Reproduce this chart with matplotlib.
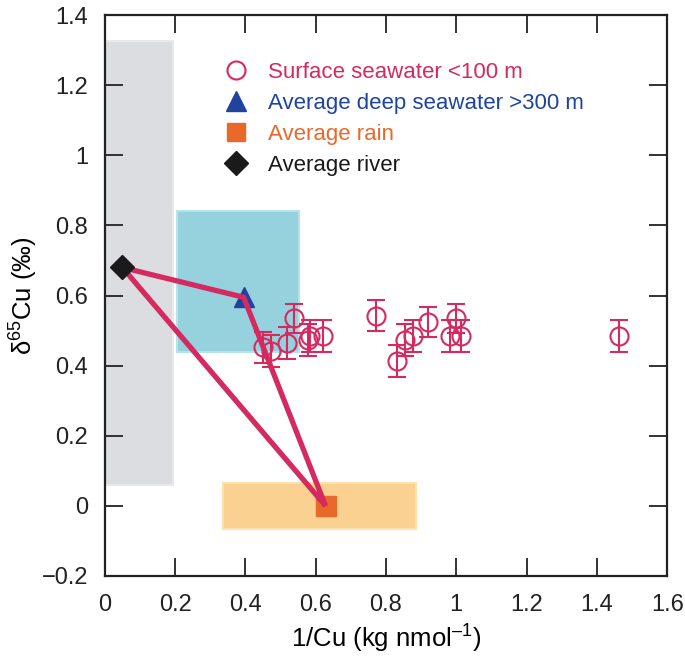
import matplotlib
matplotlib.use('Agg')
import matplotlib.pyplot as plt
from matplotlib.patches import Rectangle
from matplotlib.lines import Line2D

plt.rcParams['font.family'] = ['Liberation Sans', 'DejaVu Sans']
plt.rcParams['mathtext.fontset'] = 'custom'
plt.rcParams['mathtext.rm'] = 'Liberation Sans'
plt.rcParams['mathtext.it'] = 'Liberation Sans:italic'

# ---- data ----
surf_x = [0.451, 0.472, 0.519, 0.537, 0.577, 0.585, 0.622, 0.772, 0.831, 0.855,
          0.878, 0.920, 0.983, 0.999, 1.014, 1.462]
surf_y = [0.452, 0.441, 0.464, 0.535, 0.473, 0.485, 0.485, 0.543, 0.413, 0.473,
          0.485, 0.525, 0.485, 0.535, 0.485, 0.485]
surf_err = [0.045, 0.045, 0.045, 0.042, 0.045, 0.045, 0.045, 0.045, 0.045, 0.045,
            0.045, 0.042, 0.045, 0.042, 0.045, 0.045]

deep_x, deep_y = 0.395, 0.595
rain_x, rain_y = 0.628, 0.0
river_x, river_y = 0.05, 0.68

# ranges (x0, x1, y0, y1)
river_range = [0.0, 0.195, 0.06, 1.325]
deep_range = [0.205, 0.553, 0.44, 0.842]
rain_range = [0.335, 0.885, -0.067, 0.066]

xticks = [0, 0.2, 0.4, 0.6, 0.8, 1, 1.2, 1.4, 1.6]
yticks = [-0.2, 0, 0.2, 0.4, 0.6, 0.8, 1, 1.2, 1.4]

crimson = '#d42a5f'
blue = '#1f44a0'
orange = '#e8692a'
black = '#1a1a1a'

fig = plt.figure(figsize=(6.85, 6.56), dpi=100)
ax = fig.add_axes([0.153, 0.122, 0.821, 0.855])

for rng, fc, ec in [(river_range, '#dcdde0', '#e8e9eb'),
                    (deep_range, '#95d2de', '#b8e2ea'),
                    (rain_range, '#fad190', '#fce0b0')]:
    ax.add_patch(Rectangle((rng[0], rng[2]), rng[1] - rng[0], rng[3] - rng[2],
                           facecolor=fc, edgecolor=ec, lw=1.5, zorder=1))

# mixing triangle
ax.plot([river_x, deep_x, rain_x, river_x], [river_y, deep_y, rain_y, river_y],
        color=crimson, lw=3.8, solid_joinstyle='miter', zorder=3)

ax.errorbar(surf_x, surf_y, yerr=surf_err, fmt='o', ms=13, mfc='none', mec=crimson,
            mew=1.5, ecolor=crimson, elinewidth=1.5, capsize=6.5, capthick=1.5, zorder=4)
ax.plot(deep_x, deep_y, '^', color=blue, ms=14, zorder=2.5)
ax.plot(rain_x, rain_y, 's', color=orange, ms=15, zorder=2.5)
ax.plot(river_x, river_y, 'D', color=black, ms=12, zorder=5)

ax.set_xlim(0, 1.6)
ax.set_ylim(-0.2, 1.4)
ax.set_xticks(xticks)
ax.set_yticks(yticks)
ax.set_xticklabels(['%g' % v for v in xticks])
ax.set_yticklabels(['%g' % v if v >= 0 else '\u2212%g' % -v for v in yticks])
ax.tick_params(direction='in', length=13, width=1.3, top=True, right=True,
               labelsize=17, colors='#222222')
ax.tick_params(axis='x', pad=13)
ax.tick_params(axis='y', pad=12)
for s in ax.spines.values():
    s.set_linewidth(1.6)
    s.set_color('#222222')

ax.set_xlabel('1/Cu (kg nmol$^{\u2013 1}$)', fontsize=18.5, labelpad=5)
ax.set_ylabel('\u03b4$^{65}$Cu (\u2030)', fontsize=18.5, labelpad=1)

handles = [
    Line2D([], [], marker='o', ls='none', ms=13, mfc='none', mec=crimson, mew=1.5),
    Line2D([], [], marker='^', ls='none', ms=14, color=blue),
    Line2D([], [], marker='s', ls='none', ms=13, color=orange),
    Line2D([], [], marker='D', ls='none', ms=12, color=black),
]
labels = ['Surface seawater <100 m', 'Average deep seawater >300 m',
          'Average rain', 'Average river']
ax.legend(handles, labels, loc='upper left', bbox_to_anchor=(0.178, 0.932),
          frameon=False, fontsize=16, handletextpad=0.42, labelspacing=0.45,
          labelcolor=[crimson, blue, orange, black], borderaxespad=0)

fig.savefig('out.png', dpi=100)
